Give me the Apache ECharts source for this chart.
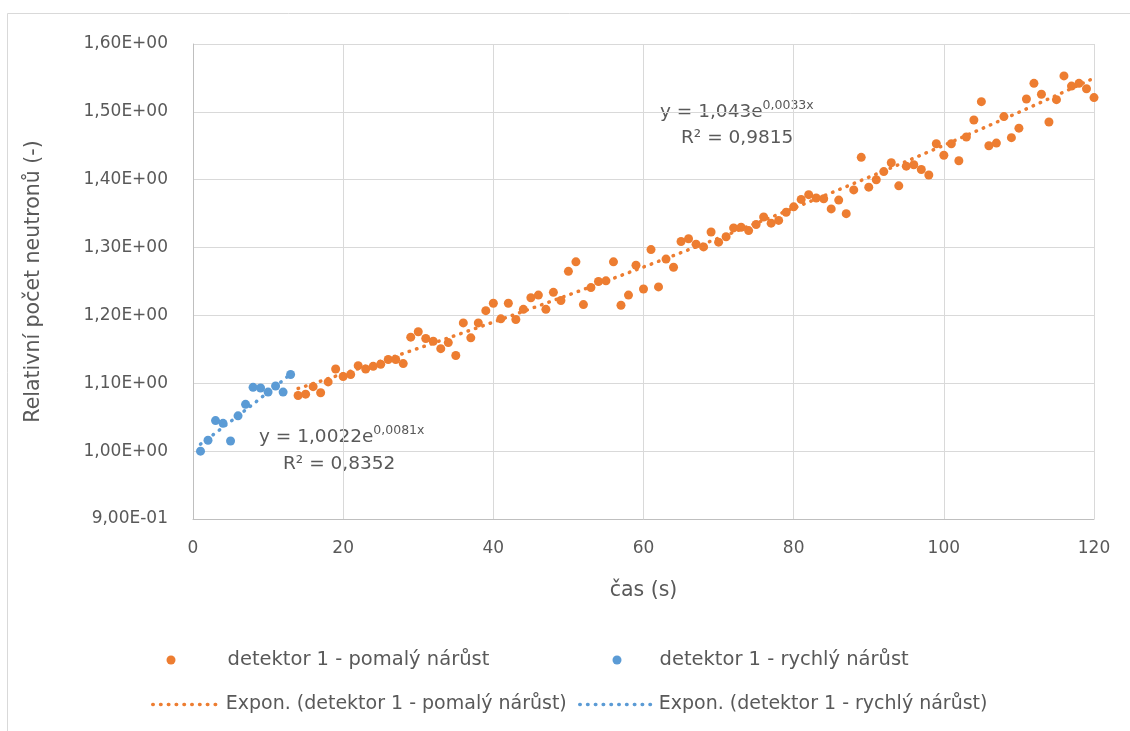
<!DOCTYPE html>
<html>
<head>
<meta charset="utf-8">
<script src="https://cdn.jsdelivr.net/npm/echarts@6/dist/echarts.min.js"></script>
<style>
  html, body { margin: 0; padding: 0; background: #fff; }
  #chart { width: 1130px; height: 731px; }
</style>
</head>
<body>
<div id="chart"></div>
<script>
// Measurement: relative neutron count of detector 1 over time
const casRychly = [1, 2, 3, 4, 5, 6, 7, 8, 9, 10, 11, 12, 13];
const rychly = [1.000, 1.016, 1.045, 1.041, 1.015, 1.052, 1.069, 1.094, 1.093, 1.087, 1.096, 1.087, 1.113];

const casPomaly = [
  14, 15, 16, 17, 18, 19, 20, 21, 22, 23, 24, 25, 26, 27, 28, 29, 30, 31, 32, 33,
  34, 35, 36, 37, 38, 39, 40, 41, 42, 43, 44, 45, 46, 47, 48, 49, 50, 51, 52, 53,
  54, 55, 56, 57, 58, 59, 60, 61, 62, 63, 64, 65, 66, 67, 68, 69, 70, 71, 72, 73,
  74, 75, 76, 77, 78, 79, 80, 81, 82, 83, 84, 85, 86, 87, 88, 89, 90, 91, 92, 93,
  94, 95, 96, 97, 98, 99, 100, 101, 102, 103, 104, 105, 106, 107, 108, 109, 110, 111, 112, 113,
  114, 115, 116, 117, 118, 119, 120
];
const pomaly = [
  1.082, 1.084, 1.095, 1.086, 1.102, 1.121, 1.110, 1.113, 1.126, 1.121, 1.125, 1.128, 1.135, 1.135, 1.129, 1.168, 1.176, 1.166, 1.162, 1.151,
  1.160, 1.141, 1.189, 1.167, 1.189, 1.207, 1.218, 1.195, 1.218, 1.194, 1.209, 1.226, 1.230, 1.209, 1.234, 1.222, 1.265, 1.279, 1.216, 1.241,
  1.250, 1.251, 1.279, 1.215, 1.230, 1.274, 1.239, 1.297, 1.242, 1.283, 1.271, 1.309, 1.313, 1.305, 1.301, 1.323, 1.308, 1.316, 1.329, 1.330,
  1.325, 1.334, 1.345, 1.336, 1.340, 1.352, 1.360, 1.371, 1.378, 1.373, 1.372, 1.357, 1.370, 1.350, 1.385, 1.433, 1.389, 1.400, 1.412, 1.425,
  1.391, 1.420, 1.422, 1.415, 1.407, 1.453, 1.436, 1.453, 1.428, 1.463, 1.488, 1.515, 1.450, 1.454, 1.493, 1.462, 1.476, 1.519, 1.542, 1.526,
  1.485, 1.518, 1.553, 1.538, 1.542, 1.534, 1.521
];

// Exponential trendline coefficients y = a * e^(b x), as printed on the chart
const fitPomaly = { a: 1.043, b: 0.0033, r2: '0,9815', aText: '1,043', bText: '0,0033' };
const fitRychly = { a: 1.0022, b: 0.0081, r2: '0,8352', aText: '1,0022', bText: '0,0081' };

const xTicks = [0, 20, 40, 60, 80, 100, 120];
const yTicks = [0.9, 1.0, 1.1, 1.2, 1.3, 1.4, 1.5, 1.6];

const names = {
  pomaly: 'detektor 1 - pomalý nárůst',
  rychly: 'detektor 1 - rychlý nárůst',
  expPomaly: 'Expon. (detektor 1 - pomalý nárůst)',
  expRychly: 'Expon. (detektor 1 - rychlý nárůst)'
};

const ORANGE = '#ED7D31';
const BLUE = '#5B9BD5';
const TEXT = '#595959';
const FONT = 'DejaVu Sans';

function pairs(xs, ys) { return xs.map((x, i) => [x, ys[i]]); }
function trend(xs, fit) { return xs.map(x => [x, fit.a * Math.exp(fit.b * x)]); }

// "1,60E+00" style scientific labels
function sci(v) {
  const parts = Number(v).toExponential(2).split('e');
  const n = parseInt(parts[1], 10);
  const exp = (n < 0 ? '-' : '+') + String(Math.abs(n)).padStart(2, '0');
  return parts[0].replace('.', ',') + 'E' + exp;
}

const DOTS = [0.5, 7.3];
const dotted = (color) => ({ color: color, width: 3.5, type: DOTS, cap: 'round' });

function legendAt(name, left, top, opts) {
  return Object.assign({
    data: [name], left: left, top: top, padding: 0, orient: 'horizontal',
    selectedMode: false,
    textStyle: { color: TEXT, fontSize: 19.5, fontFamily: FONT }
  }, opts);
}

function eqText(left, midY, fit) {
  return {
    type: 'text', left: left, top: midY - 13, silent: true,
    style: {
      text: '{m|y = ' + fit.aText + 'e}{s|' + fit.bText + 'x}',
      rich: {
        m: { fontSize: 18.5, fontFamily: FONT, fill: TEXT, lineHeight: 26 },
        s: { fontSize: 12.5, fontFamily: FONT, fill: TEXT, lineHeight: 14, verticalAlign: 'top' }
      }
    }
  };
}
function r2Text(left, midY, fit) {
  return {
    type: 'text', left: left, top: midY - 11, silent: true,
    style: { text: 'R² = ' + fit.r2, fontSize: 18.5, fontFamily: FONT, fill: TEXT }
  };
}

const chart = echarts.init(document.getElementById('chart'), null, { renderer: 'canvas' });

chart.setOption({
  animation: false,
  backgroundColor: '#fff',
  grid: { left: 193, right: 36, top: 44, bottom: 212, containLabel: false },
  xAxis: {
    type: 'value',
    min: xTicks[0], max: xTicks[xTicks.length - 1], interval: xTicks[1] - xTicks[0],
    name: 'čas (s)', nameLocation: 'middle', nameGap: 61,
    nameTextStyle: { color: TEXT, fontSize: 20.5, fontFamily: FONT },
    axisLine: { lineStyle: { color: '#BFBFBF', width: 1 } },
    axisTick: { show: false },
    axisLabel: { color: TEXT, fontSize: 17, fontFamily: FONT, margin: 21 },
    splitLine: { lineStyle: { color: '#D9D9D9', width: 1 } }
  },
  yAxis: {
    type: 'value',
    min: yTicks[0], max: yTicks[yTicks.length - 1], interval: 0.1,
    name: 'Relativní počet neutronů (-)', nameLocation: 'middle', nameGap: 149,
    nameTextStyle: { color: TEXT, fontSize: 20.5, fontFamily: FONT },
    axisLine: { show: true, lineStyle: { color: '#BFBFBF', width: 1 } },
    axisTick: { show: false },
    axisLabel: { color: TEXT, fontSize: 17, fontFamily: FONT, margin: 25, formatter: sci },
    splitLine: { lineStyle: { color: '#D9D9D9', width: 1 } }
  },
  legend: [
    legendAt(names.pomaly, 166.5, 650, { itemWidth: 9, itemHeight: 9, icon: 'circle',
      textStyle: { color: TEXT, fontSize: 19.5, fontFamily: FONT, padding: [0, 0, 0, 47] } }),
    legendAt(names.rychly, 612.5, 650, { itemWidth: 9, itemHeight: 9, icon: 'circle',
      textStyle: { color: TEXT, fontSize: 19.5, fontFamily: FONT, padding: [0, 0, 0, 33] } }),
    legendAt(names.expPomaly, 151, 695, { itemWidth: 68, itemHeight: 6,
      itemStyle: { opacity: 0 }, lineStyle: { width: 3.5, type: DOTS, cap: 'round' },
      textStyle: { color: TEXT, fontSize: 19, fontFamily: FONT } }),
    legendAt(names.expRychly, 578, 695, { itemWidth: 74, itemHeight: 6,
      itemStyle: { opacity: 0 }, lineStyle: { width: 3.5, type: DOTS, cap: 'round' },
      textStyle: { color: TEXT, fontSize: 19, fontFamily: FONT } })
  ],
  graphic: [
    { type: 'rect', silent: true, shape: { x: 7.5, y: 13.5, width: 1160, height: 760 },
      style: { fill: 'none', stroke: '#D9D9D9', lineWidth: 1 }, z: -10 },
    eqText(660, 112, fitPomaly),
    r2Text(681, 140, fitPomaly),
    eqText(259, 437, fitRychly),
    r2Text(283, 466, fitRychly)
  ],
  series: [
    { name: names.pomaly, type: 'scatter', data: pairs(casPomaly, pomaly),
      symbol: 'circle', symbolSize: 9, itemStyle: { color: ORANGE, opacity: 1 } },
    { name: names.rychly, type: 'scatter', data: pairs(casRychly, rychly),
      symbol: 'circle', symbolSize: 9, itemStyle: { color: BLUE, opacity: 1 } },
    { name: names.expPomaly, type: 'line', data: trend(casPomaly, fitPomaly),
      symbol: 'none', smooth: false, color: ORANGE, lineStyle: dotted(ORANGE) },
    { name: names.expRychly, type: 'line', data: trend(casRychly, fitRychly),
      symbol: 'none', smooth: false, color: BLUE, lineStyle: dotted(BLUE) }
  ]
});
</script>
</body>
</html>
